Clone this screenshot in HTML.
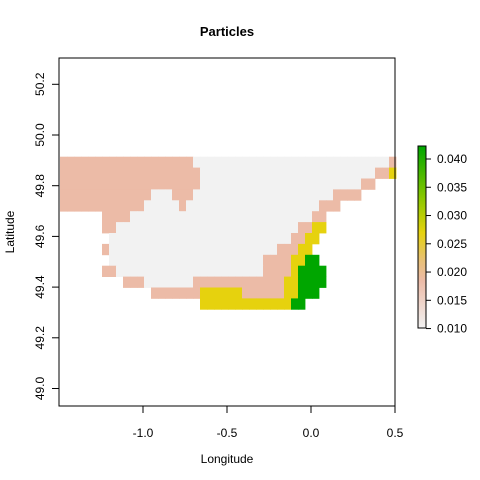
<!DOCTYPE html>
<html><head><meta charset="utf-8"><style>
html,body{margin:0;padding:0;background:#fff;}
svg{display:block;font-family:"Liberation Sans",Arial,sans-serif;}
</style></head><body>
<svg id="chart" width="480" height="480" viewBox="0 0 480 480">
<g id="cells"></g>
<g id="axes"></g>
<g id="legend"></g>
<text x="227" y="36" text-anchor="middle" font-size="13" font-weight="bold">Particles</text>
<text x="227" y="463" text-anchor="middle" font-size="12">Longitude</text>
<text x="0" y="0" transform="translate(14,232) rotate(-90)" text-anchor="middle" font-size="12">Latitude</text>
</svg>
<script>
// category codes: 0 = no data, 1..4 = value classes
const classValues = [null, 0.010, 0.0185, 0.027, 0.0423];
// run-length rows, top to bottom: [code, count, code, count, ...]
const rowRuns = [
  [2,19, 1,28, 2,1],
  [2,20, 1,25, 2,2, 3,1],
  [2,20, 1,23, 2,2, 0,3],
  [2,13, 1,3, 2,3, 1,20, 2,4, 0,5],
  [2,12, 1,5, 2,1, 1,19, 2,3, 0,8],
  [0,6, 2,4, 1,26, 2,2, 0,10],
  [0,6, 2,2, 1,26, 2,2, 3,2, 0,10],
  [0,7, 1,26, 2,2, 3,2, 0,11],
  [0,6, 2,1, 1,24, 2,3, 3,2, 0,12],
  [0,7, 1,22, 2,4, 3,2, 4,2, 0,11],
  [0,6, 2,2, 1,21, 2,4, 3,1, 4,4, 0,10],
  [0,9, 2,3, 1,7, 2,13, 3,2, 4,4, 0,10],
  [0,13, 2,7, 3,6, 2,6, 3,2, 4,3, 0,11],
  [0,20, 3,13, 4,2, 0,13]
];
const xTicks = [-1.0, -0.5, 0.0, 0.5];
const xTickLabels = ["-1.0", "-0.5", "0.0", "0.5"];
const yTicks = [49.0, 49.2, 49.4, 49.6, 49.8, 50.0, 50.2];
const yTickLabels = ["49.0", "49.2", "49.4", "49.6", "49.8", "50.0", "50.2"];
const legendTicks = [0.010, 0.015, 0.020, 0.025, 0.030, 0.035, 0.040];
const legendTickLabels = ["0.010", "0.015", "0.020", "0.025", "0.030", "0.035", "0.040"];

const NS = "http://www.w3.org/2000/svg";
const px0 = 59, px1 = 395, py0 = 58, py1 = 406;
function xs(lon){ return 311 + lon * 168; }
function ys(lat){ return 84.3 + (50.2 - lat) * 253.5; }
const gridLon0 = (60 - 311) / 168, dLon = 7 / 168;
const gridLat0 = 50.2 - (156.7 - 84.3) / 253.5, dLat = 10.9 / 253.5;
const vMin = 0.0101, vMax = 0.0423;
const stops = [[0.0101,[242,242,242]],[0.0185,[236,187,167]],[0.022,[232,192,120]],[0.027,[230,210,14]],[0.033,[140,200,0]],[0.0423,[0,166,0]]];
function colorOf(v){
  for (let i=1;i<stops.length;i++){
    if (v<=stops[i][0]){
      const a=stops[i-1], b=stops[i], t=Math.max(0,(v-a[0])/(b[0]-a[0]));
      const c=a[1].map((x,k)=>Math.round(x+(b[1][k]-x)*t));
      return "rgb("+c.join(",")+")";
    }
  }
  return "rgb(0,166,0)";
}
function mk(tag, attrs, parent){
  const e=document.createElementNS(NS,tag);
  for (const k in attrs) e.setAttribute(k, attrs[k]);
  parent.appendChild(e); return e;
}
const cells=document.getElementById("cells");
rowRuns.forEach((runs,r)=>{
  let c=0;
  for (let i=0;i<runs.length;i+=2){
    const code=runs[i], n=runs[i+1];
    for (let j=0;j<n;j++,c++){
      if (!code) continue;
      const lon=gridLon0+c*dLon, lat=gridLat0-r*dLat;
      const x=xs(lon), y=ys(lat);
      const rect=mk("rect",{x:x.toFixed(2),y:y.toFixed(2),width:(xs(lon+dLon)-x+0.4).toFixed(2),height:(ys(lat-dLat)-y+0.4).toFixed(2),fill:colorOf(classValues[code])},cells);
      
      
    }
  }
});
const axes=document.getElementById("axes");
const box=mk("rect",{x:px0,y:py0,width:px1-px0,height:py1-py0,fill:"none",stroke:"#000","stroke-width":1},axes);


xTicks.forEach((t,i)=>{
  const x=xs(t);
  const l=mk("line",{x1:x,x2:x,y1:py1,y2:py1+7,stroke:"#000"},axes);
  
  
  const tx=mk("text",{x:x,y:437,"text-anchor":"middle","font-size":12},axes);
  tx.textContent=xTickLabels[i];
  
  
});
yTicks.forEach((t,i)=>{
  const y=ys(t);
  const l=mk("line",{x1:px0-7,x2:px0,y1:y,y2:y,stroke:"#000"},axes);
  
  
  const tx=mk("text",{x:0,y:0,transform:"translate(44,"+y+") rotate(-90)","text-anchor":"middle","font-size":12},axes);
  tx.textContent=yTickLabels[i];
  
  
});
const legend=document.getElementById("legend");
const lx=418, lw=8, ly0=328, ly1=146;
function ly(v){ return ly0-(v-vMin)/(vMax-vMin)*(ly0-ly1); }
for (let i=0;i<182;i++){
  const v=vMin+(vMax-vMin)*(i+0.5)/182;
  mk("rect",{x:lx,y:(ly0-(i+1)).toFixed(2),width:lw,height:1.2,fill:colorOf(v)},legend);
}
const lb=mk("rect",{x:lx,y:ly1,width:lw,height:ly0-ly1,fill:"none",stroke:"#000","stroke-width":1},legend);


legendTicks.forEach((t,i)=>{
  const y=ly(t);
  const l=mk("line",{x1:lx+lw,x2:lx+lw+5,y1:y,y2:y,stroke:"#000"},legend);
  
  
  const tx=mk("text",{x:437,y:y+4,"font-size":12},legend);
  tx.textContent=legendTickLabels[i];
  
  
});
</script>
</body></html>
